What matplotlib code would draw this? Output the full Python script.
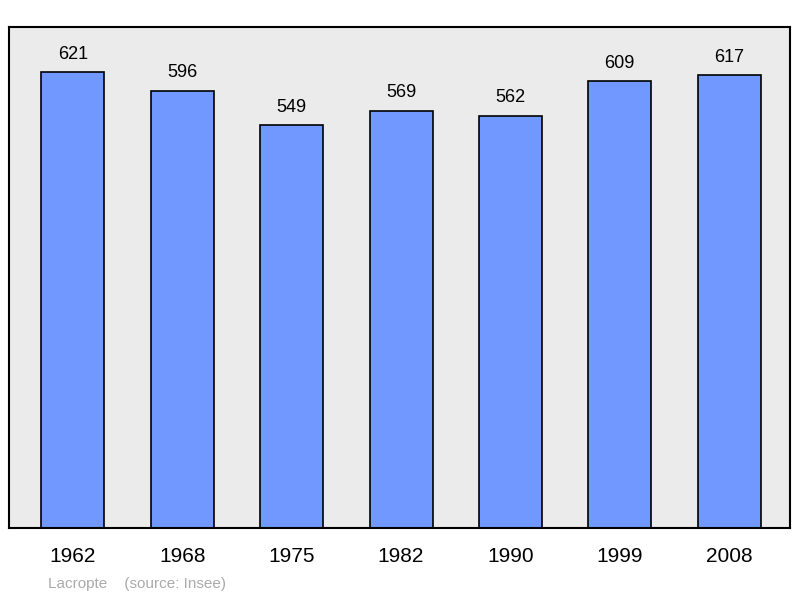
import matplotlib
matplotlib.use('Agg')
import matplotlib.pyplot as plt

plt.rcParams['font.family'] = ['Liberation Sans', 'DejaVu Sans']

years = ['1962', '1968', '1975', '1982', '1990', '1999', '2008']
population = [621, 596, 549, 569, 562, 609, 617]

fig = plt.figure(figsize=(8, 5.98), dpi=100)
ax = fig.add_axes([9 / 800, 1 - 528 / 598, 781 / 800, 501 / 598])
ax.set_facecolor('#ebebeb')

xs = range(len(years))
ax.bar(xs, population, width=0.576, color='#7098ff', edgecolor='black', linewidth=1.2, zorder=2)
for x, v in zip(xs, population):
    ax.annotate(str(v), (x, v), xytext=(0, 7), textcoords='offset points',
                ha='center', va='bottom', fontsize=13)

ax.set_xlim(-0.585, 6.557)
ax.set_ylim(0, 683)
ax.set_yticks([])
ax.set_xticks(list(xs))
ax.set_xticklabels(years, fontsize=15)
ax.tick_params(axis='x', length=0, pad=14)
for s in ax.spines.values():
    s.set_linewidth(1.5)

fig.text(48 / 800, 1 - 584 / 598, 'Lacropte    (source: Insee)', color='#aaaaaa',
         fontsize=11, va='center')

fig.savefig('out.png', dpi=100)
